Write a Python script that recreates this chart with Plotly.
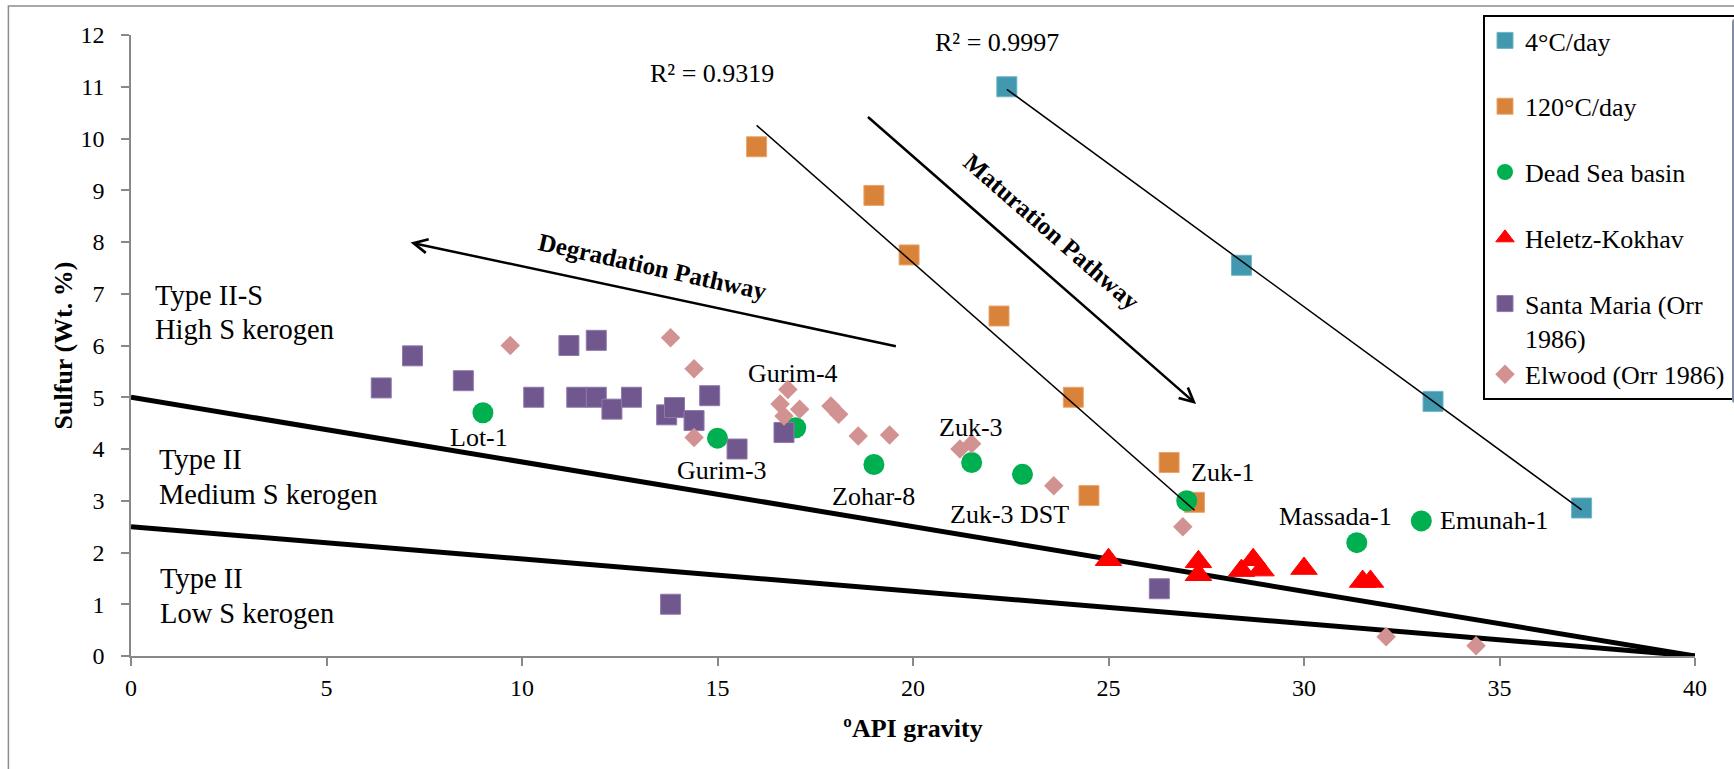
import numpy as np
import plotly.graph_objects as go

# ---------------- data ----------------
api_4c = [22.4, 28.4, 33.3, 37.1]
s_4c = [11.0, 7.55, 4.92, 2.86]

api_120c = [16.0, 19.0, 19.9, 22.2, 24.1, 26.55, 24.5, 27.2]
s_120c = [9.84, 8.9, 7.75, 6.57, 5.0, 3.74, 3.1, 2.97]

ds_names = ["Lot-1", "Gurim-3", "Gurim-4", "Zohar-8", "Zuk-3", "Zuk-3 DST",
            "Zuk-1", "Massada-1", "Emunah-1"]
api_ds = [9.0, 15.0, 17.0, 19.0, 21.5, 22.8, 27.0, 31.35, 33.0]
s_ds = [4.7, 4.21, 4.41, 3.7, 3.74, 3.51, 3.0, 2.19, 2.61]

api_hk = [25.0, 27.3, 27.3, 28.4, 28.7, 28.9, 30.0, 31.5, 31.7]
s_hk = [1.86, 1.82, 1.57, 1.65, 1.86, 1.66, 1.69, 1.44, 1.44]

api_sm = [6.4, 7.2, 8.5, 10.3, 11.2, 11.9, 11.4, 11.9, 12.3, 12.8, 13.7, 13.9,
          14.8, 14.4, 15.5, 16.7, 26.3, 13.8]
s_sm = [5.18, 5.8, 5.32, 5.0, 6.0, 6.1, 5.0, 5.0, 4.77, 5.0, 4.66, 4.8,
        5.03, 4.55, 4.0, 4.32, 1.3, 1.0]

api_el = [9.7, 13.8, 14.4, 14.4, 16.8, 16.6, 17.1, 16.7, 17.9, 18.1, 18.6, 19.4,
          21.2, 21.5, 23.6, 26.9, 32.1, 34.4]
s_el = [6.0, 6.15, 5.55, 4.22, 5.15, 4.87, 4.77, 4.64, 4.83, 4.67, 4.25, 4.27,
        4.0, 4.1, 3.29, 2.5, 0.37, 0.2]

boundary_api = [0, 40]
boundary_high = [5, 0]
boundary_low = [2.5, 0]

r2_4c = "R² = 0.9997"
r2_120c = "R² = 0.9319"

# ---------------- styling ----------------
FONT = "Liberation Serif"
W, H = 1734, 769
ML, MR, MT, MB = 131, 39, 35, 113
PW, PH = W - ML - MR, H - MT - MB

C_TEAL = "#4298AF"
C_ORANGE = "#D9823A"
C_GREEN = "#00B050"
C_RED = "#FF0000"
C_PURPLE = "#70588F"
C_PINK = "#D29292"


def trend(x, y):
    m, c = np.polyfit(x, y, 1)
    xs = np.array([min(x), max(x)])
    return xs, m * xs + c


fig = go.Figure()

# kerogen boundary lines
for yy in (boundary_high, boundary_low):
    fig.add_trace(go.Scatter(x=boundary_api, y=yy, mode="lines",
                             line=dict(color="black", width=5),
                             showlegend=False, hoverinfo="skip"))

fig.add_trace(go.Scatter(x=api_4c, y=s_4c, mode="markers", name="4°C/day",
                         legendgroup="g1",
                         marker=dict(symbol="square", size=20, color=C_TEAL,
                                     line=dict(color="#6fb3c6", width=1))))
fig.add_trace(go.Scatter(x=api_120c, y=s_120c, mode="markers", name="120°C/day",
                         legendgroup="g2",
                         marker=dict(symbol="square", size=20, color=C_ORANGE,
                                     line=dict(color="#eaa56c", width=1))))
fig.add_trace(go.Scatter(x=api_ds, y=s_ds, mode="markers", name="Dead Sea basin",
                         legendgroup="g3",
                         marker=dict(symbol="circle", size=21, color=C_GREEN,
                                     line=dict(width=0))))
fig.add_trace(go.Scatter(x=api_hk, y=s_hk, mode="markers", name="Heletz-Kokhav",
                         legendgroup="g4",
                         marker=dict(symbol="triangle-up", size=23, color=C_RED,
                                     line=dict(color=C_RED, width=1))))
fig.add_trace(go.Scatter(x=api_sm, y=s_sm, mode="markers",
                         name="Santa Maria (Orr<br>1986)", legendgroup="g5",
                         marker=dict(symbol="square", size=20, color=C_PURPLE,
                                     line=dict(color="#8f7aab", width=1))))
fig.add_trace(go.Scatter(x=api_el, y=s_el, mode="markers",
                         name="Elwood (Orr 1986)", legendgroup="g5",
                         marker=dict(symbol="diamond", size=15, color=C_PINK,
                                     line=dict(width=0))))

# linear trend lines
for xs, ys in (trend(api_4c, s_4c), trend(api_120c, s_120c)):
    fig.add_trace(go.Scatter(x=xs, y=ys, mode="lines",
                             line=dict(color="black", width=1.5),
                             showlegend=False, hoverinfo="skip"))

ann = []
# data labels for Dead Sea basin wells (pixel offsets)
label_shift = {
    "Lot-1": (-4, -25), "Gurim-3": (4, -32), "Gurim-4": (-3, 54),
    "Zohar-8": (0, -32), "Zuk-3": (-1, 35), "Zuk-3 DST": (-13, -40),
    "Zuk-1": (36, 28), "Massada-1": (-21, 26), "Emunah-1": (73, 0),
}
for name, xv, yv in zip(ds_names, api_ds, s_ds):
    dx, dy = label_shift[name]
    ann.append(dict(x=xv, y=yv, xref="x", yref="y", text=name, showarrow=False,
                    xshift=dx, yshift=dy, xanchor="center", yanchor="middle",
                    font=dict(family=FONT, size=26, color="black")))

# kerogen region labels
for txt, xv, yv in [("Type II-S", 0.57, 6.97), ("High S kerogen", 0.57, 6.30),
                    ("Type II", 0.67, 3.79), ("Medium S kerogen", 0.67, 3.12),
                    ("Type II", 0.70, 1.49), ("Low S kerogen", 0.70, 0.825)]:
    ann.append(dict(x=xv, y=yv, xref="x", yref="y", text=txt, showarrow=False,
                    xanchor="left", yanchor="middle",
                    font=dict(family=FONT, size=28.5, color="black")))

# R² labels
ann.append(dict(x=14.87, y=11.25, xref="x", yref="y", text=r2_120c, showarrow=False,
                font=dict(family=FONT, size=26, color="black")))
ann.append(dict(x=22.16, y=(H - MB - 25.8) / PH, xref="x", yref="paper",
                text=r2_4c, showarrow=False,
                font=dict(family=FONT, size=26, color="black")))

# pathway arrows and labels
ann.append(dict(x=7.15, y=7.99, ax=19.6, ay=5.98, xref="x", yref="y",
                axref="x", ayref="y", text="", showarrow=True, arrowhead=5,
                arrowsize=1.1, arrowwidth=2.5, arrowcolor="black",
                standoff=0, startstandoff=0))
ann.append(dict(x=27.24, y=4.87, ax=18.81, ay=10.44, xref="x", yref="y",
                axref="x", ayref="y", text="", showarrow=True, arrowhead=5,
                arrowsize=1.1, arrowwidth=2.5, arrowcolor="black",
                standoff=0, startstandoff=0))
ann.append(dict(x=13.33, y=7.52, xref="x", yref="y", text="<b>Degradation Pathway</b>",
                showarrow=False, textangle=12.5,
                font=dict(family=FONT, size=25, color="black")))
ann.append(dict(x=23.54, y=8.2, xref="x", yref="y", text="<b>Maturation Pathway</b>",
                showarrow=False, textangle=41,
                font=dict(family=FONT, size=25, color="black")))

# outer chart frame
shapes = [dict(type="rect", xref="paper", yref="paper",
               x0=(8.4 - ML) / PW, x1=1.06, y0=-0.25, y1=(H - MB - 6) / PH,
               line=dict(color="#8c8c8c", width=1.5), layer="below")]

axis_common = dict(showgrid=False, zeroline=False, showline=True,
                   linecolor="#888888", linewidth=1.5, ticks="outside",
                   ticklen=8, tickwidth=1.5, tickcolor="#888888",
                   tickfont=dict(family=FONT, size=24, color="black"),
                   automargin=False)

fig.update_layout(
    width=W, height=H,
    margin=dict(l=ML, r=MR, t=MT, b=MB, autoexpand=False),
    paper_bgcolor="white", plot_bgcolor="white",
    font=dict(family=FONT, color="black"),
    xaxis=dict(range=[0, 40], dtick=5, tick0=0, ticklabelstandoff=1,
               title=dict(text="<b>ºAPI gravity</b>", standoff=19,
                          font=dict(family=FONT, size=26, color="black")),
               **axis_common),
    yaxis=dict(range=[0, 12], dtick=1, tick0=0, ticklabelstandoff=12,
               title=dict(text="<b>Sulfur (Wt. %)</b>", standoff=0,
                          font=dict(family=FONT, size=26, color="black")),
               **axis_common),
    legend=dict(x=1483 / W, xref="container", xanchor="left",
                y=1 - 15 / H, yref="container", yanchor="top",
                bordercolor="black", borderwidth=2, bgcolor="white",
                font=dict(family=FONT, size=26, color="black"),
                tracegroupgap=29, valign="top", traceorder="grouped"),
    annotations=ann,
    shapes=shapes,
    showlegend=True,
)

fig.write_html("out.html")
